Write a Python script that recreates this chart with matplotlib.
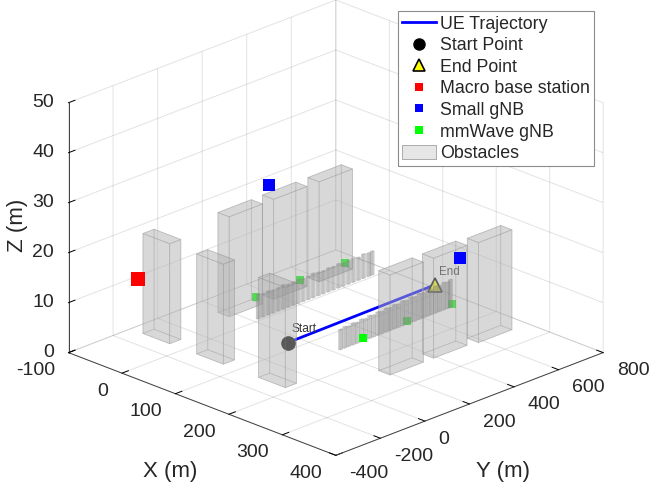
import matplotlib
matplotlib.use("Agg")
import matplotlib.pyplot as plt
from matplotlib.lines import Line2D
from matplotlib.patches import Patch
from mpl_toolkits.mplot3d.art3d import Poly3DCollection

plt.rcParams['font.family'] = ['Liberation Sans', 'DejaVu Sans']
plt.rcParams['axes.unicode_minus'] = False

### DATA ###

x_ticks = [-100, 0, 100, 200, 300, 400]
y_ticks = [-400, -200, 0, 200, 400, 600, 800]
z_ticks = [0, 10, 20, 30, 40, 50]

# buildings: corner x, corner y, size x, size y, height
bld_x = [-77, 23, 138, -58, -59, -59, 234, 234, 238]
bld_y = [-121, -120, -118, 170, 372, 576, 191, 387, 579]
bld_dx = [50, 50, 50, 21, 21, 21, 21, 21, 21]
bld_dy = [50, 50, 50, 150, 150, 150, 150, 150, 150]
bld_h = [20, 20, 20, 20, 20, 20, 20, 20, 20]

# thin slabs along the road
fence_back_y = [219, 241, 264, 286, 309, 331, 354, 376, 399, 421, 444, 466,
                489, 511, 534, 556, 579, 601, 624, 646, 669, 691, 714, 730]
fence_back_h = [4.8, 4.6, 4.7, 4.5, 4.6, 4.8, 4.5, 4.6, 4.7, 4.5, 4.6, 4.8,
                4.6, 4.5, 4.7, 4.6, 4.8, 4.5, 4.6, 4.7, 4.5, 4.8, 4.6, 4.7]
fence_front_y = [224, 243, 261, 280, 298, 317, 335, 354, 372, 391, 409, 428, 446, 465,
                 483, 502, 520, 539, 557, 576, 594, 613, 631, 650, 668, 687, 705, 717]
fence_front_h = [4.0, 4.2, 4.0, 4.3, 4.1, 4.4, 4.2, 4.5, 4.3, 4.6, 4.4, 4.7, 4.5, 4.8,
                 4.6, 4.9, 4.7, 5.0, 4.8, 5.1, 4.9, 5.2, 5.0, 5.3, 5.1, 5.4, 5.2, 5.5]
fence_back_x = -7
fence_front_x = 145

traj_x = [99, 96]
traj_y = [106, 776]
traj_z = [1.5, 1.5]

macro_pos = (-33, -251, 15)
small_x = [-17, 339]
small_y = [300, 305]
small_z = [25, 25]
mm_x = [200, 200, 200, 0, 0, 0]
mm_y = [200, 400, 600, 200, 400, 600]
mm_z = [5, 5, 5, 5, 5, 5]

legend_labels = ["UE Trajectory", "Start Point", "End Point", "Macro base station",
                 "Small gNB", "mmWave gNB", "Obstacles"]


def box_faces(x, y, dx, dy, h):
    x2, y2 = x + dx, y + dy
    return [
        [(x, y, 0), (x2, y, 0), (x2, y2, 0), (x, y2, 0)],
        [(x, y, h), (x2, y, h), (x2, y2, h), (x, y2, h)],
        [(x, y, 0), (x2, y, 0), (x2, y, h), (x, y, h)],
        [(x, y2, 0), (x2, y2, 0), (x2, y2, h), (x, y2, h)],
        [(x, y, 0), (x, y2, 0), (x, y2, h), (x, y, h)],
        [(x2, y, 0), (x2, y2, 0), (x2, y2, h), (x2, y, h)],
    ]


### FIGURE ###

fig = plt.figure(figsize=(6.5, 4.93), dpi=100)
ax = fig.add_axes([17.5 / 650, 25 / 493, 624 / 650, 468 / 493], projection='3d', proj_type='ortho')
ax.computed_zorder = False
ax.view_init(elev=22.6, azim=-45)
ax.set_box_aspect((1, 1, 0.716), zoom=1.243)
ax.set_xlim(-100, 400)
ax.set_ylim(-400, 800)
ax.set_zlim(0, 50)
ax.set_xticks(x_ticks)
ax.set_yticks(y_ticks)
ax.set_zticks(z_ticks)

for axis in (ax.xaxis, ax.yaxis, ax.zaxis):
    axis.set_pane_color((1, 1, 1, 1))
    axis.pane.set_edgecolor((1, 1, 1, 0))
    axis.line.set_color('#404040')
    axis.line.set_linewidth(0.7)
    axis._axinfo['grid']['color'] = (0.15, 0.15, 0.15, 0.13)
    axis._axinfo['grid']['linewidth'] = 0.7
    axis._axinfo['tick']['inward_factor'] = 0.0
    axis._axinfo['tick']['outward_factor'] = 0.3
    axis._axinfo['tick']['linewidth'] = {True: 0.7, False: 0.7}
    axis._axinfo['tick']['color'] = '#404040'
ax.zaxis.set_ticks_position('lower')
ax.tick_params(axis='both', labelsize=14, labelcolor='#262626', pad=1)
ax.tick_params(axis='z', pad=-3.2)

# MATLAB style label anchoring
for lbl in ax.get_xticklabels():
    lbl.set_ha('right')
    lbl.set_va('center')
for lbl in ax.get_yticklabels():
    lbl.set_ha('left')
    lbl.set_va('center')
for lbl in ax.get_zticklabels():
    lbl.set_ha('right')
    lbl.set_va('center')

# things seen through the obstacles
ax.plot(traj_x, traj_y, traj_z, color='#0000ff', lw=2, zorder=2)
ax.plot(traj_x[:1], traj_y[:1], traj_z[:1], 'o', color='k', ms=9.5, zorder=2)
ax.plot(traj_x[1:], traj_y[1:], traj_z[1:], '^', mfc='#ffff00', mec='k', mew=1.2, ms=10, zorder=2)
ax.text2D(291 / 650, 1 - 329 / 493, "Start", transform=fig.transFigure, fontsize=8.6,
          color='#333333', va='center', zorder=2)
ax.text2D(439 / 650, 1 - 272 / 493, "End", transform=fig.transFigure, fontsize=8.4,
          color='#333333', va='center', zorder=2)
ax.plot(mm_x[1:], mm_y[1:], mm_z[1:], 's', color='#00ff00', ms=6, mew=0, zorder=2)

faces = []
for i in range(len(bld_x)):
    faces += box_faces(bld_x[i], bld_y[i], bld_dx[i], bld_dy[i], bld_h[i])
ax.add_collection3d(Poly3DCollection(faces, facecolors=(0.7, 0.7, 0.7, 0.29),
                                     edgecolors=(0.5, 0.5, 0.5, 0.25), linewidths=0.6, zorder=3))
slabs = []
for i in range(len(fence_back_y)):
    slabs += box_faces(fence_back_x, fence_back_y[i], 3, 12, fence_back_h[i])
for i in range(len(fence_front_y)):
    slabs += box_faces(fence_front_x, fence_front_y[i], 3, 12, fence_front_h[i])
ax.add_collection3d(Poly3DCollection(slabs, facecolors=(0.55, 0.55, 0.55, 0.25),
                                     edgecolors=(0.5, 0.5, 0.5, 0.12), linewidths=0.4, zorder=3))

# things in front
ax.plot(mm_x[:1], mm_y[:1], mm_z[:1], 's', color='#00ff00', ms=6, mew=0, zorder=4)
ax.plot([macro_pos[0]], [macro_pos[1]], [macro_pos[2]], 's', color='#ff0000', ms=9.5, mew=0, zorder=4)
ax.plot(small_x, small_y, small_z, 's', color='#0000ff', ms=8, mew=0, zorder=4)

fig.text(170 / 650, 1 - 471 / 493, "X (m)", fontsize=16, color='#262626', ha='center', va='center')
fig.text(503 / 650, 1 - 471 / 493, "Y (m)", fontsize=16, color='#262626', ha='center', va='center')
fig.text(18 / 650, 1 - 225 / 493, "Z (m)", fontsize=16, color='#262626', ha='center', va='center', rotation=90)

handles = [
    Line2D([], [], color='#0000ff', lw=2),
    Line2D([], [], marker='o', color='k', ls='', ms=8),
    Line2D([], [], marker='^', mfc='#ffff00', mec='k', mew=1.2, ls='', ms=8),
    Line2D([], [], marker='s', color='#ff0000', ls='', ms=6, mew=0),
    Line2D([], [], marker='s', color='#0000ff', ls='', ms=6, mew=0),
    Line2D([], [], marker='s', color='#00ff00', ls='', ms=6, mew=0),
    Patch(facecolor='#e6e6e6', edgecolor='#a0a0a0', lw=0.6),
]
leg = fig.legend(handles, legend_labels, loc='upper left', bbox_to_anchor=(398 / 650, 1 - 11 / 493),
                 fontsize=12.8, borderaxespad=0, borderpad=0.25, labelspacing=0.225,
                 handlelength=1.9, handletextpad=0.22, handleheight=0.9, fancybox=False,
                 framealpha=1, edgecolor='#8c8c8c')
leg.get_frame().set_linewidth(0.8)
for t in leg.get_texts():
    t.set_color('#262626')

fig.savefig("out.png", dpi=100)
